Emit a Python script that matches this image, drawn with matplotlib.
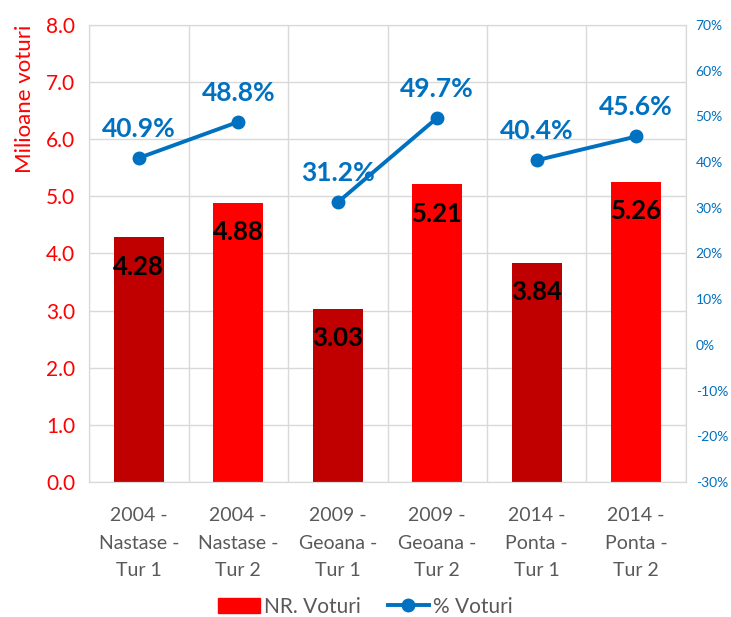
import matplotlib.pyplot as plt
import numpy as np
from matplotlib.ticker import FuncFormatter, MultipleLocator
from matplotlib.patches import Patch
from matplotlib.lines import Line2D

plt.rcParams['font.family'] = ['Lato', 'DejaVu Sans']

categories = [
    "2004 -\nNastase -\nTur 1", "2004 -\nNastase -\nTur 2",
    "2009 -\nGeoana -\nTur 1", "2009 -\nGeoana -\nTur 2",
    "2014 -\nPonta -\nTur 1", "2014 -\nPonta -\nTur 2",
]
votes_mil = [4.28, 4.88, 3.03, 5.21, 3.84, 5.26]
votes_pct = [40.9, 48.8, 31.2, 49.7, 40.4, 45.6]
bar_colors = ["#C00000", "#FF0000"] * 3

BLUE = "#0070C0"
GRID = "#D9D9D9"

fig = plt.figure(figsize=(7.31, 6.17), dpi=100)
ax = fig.add_axes([0.1218, 0.2188, 0.8166, 0.7407])
x = np.arange(len(categories))

ax.bar(x, votes_mil, width=0.5, color=bar_colors, zorder=2)
for xi, v in zip(x, votes_mil):
    ax.annotate(f"{v:.2f}", (xi, v), xytext=(0, -21), textcoords="offset points",
                ha="center", va="center", fontsize=18.5, fontweight="bold", color="black", zorder=5)

ax.set_xlim(-0.5, len(categories) - 0.5)
ax.set_ylim(0, 8)
ax.yaxis.set_major_locator(MultipleLocator(1))
ax.yaxis.set_major_formatter(FuncFormatter(lambda v, p: f"{v:.1f}"))
ax.tick_params(axis="y", colors="#FF0000", labelsize=15, length=0, pad=10)
ax.set_ylabel("Milioane voturi", color="#FF0000", fontsize=16, labelpad=8, loc="top")
ax.set_xticks(x)
ax.set_xticklabels(categories, fontsize=14, color="#595959", linespacing=1.75)
ax.tick_params(axis="x", length=0, pad=18)
ax.set_xticks(np.arange(-0.5, len(categories)), minor=True)
ax.tick_params(axis="x", which="minor", length=0)
ax.grid(axis="y", color=GRID, lw=1, zorder=0)
ax.grid(axis="x", which="minor", color=GRID, lw=1, zorder=0)
for s in ax.spines.values():
    s.set_color(GRID)

ax2 = ax.twinx()
# each election is its own segment (Tur 1 -> Tur 2)
for i in range(0, len(categories), 2):
    ax2.plot(x[i:i + 2], votes_pct[i:i + 2], color=BLUE, lw=2.8, marker="o",
             markersize=9, zorder=4)
for xi, v in zip(x, votes_pct):
    ax2.annotate(f"{v:.1f}%", (xi, v), xytext=(0, 21), textcoords="offset points",
                 ha="center", va="center", fontsize=19, fontweight="bold", color=BLUE)
ax2.set_ylim(-30, 70)
ax2.yaxis.set_major_locator(MultipleLocator(10))
ax2.yaxis.set_major_formatter(FuncFormatter(lambda v, p: f"{v:.0f}%"))
ax2.tick_params(axis="y", colors=BLUE, labelsize=10, length=0, pad=7)
for s in ax2.spines.values():
    s.set_color(GRID)

handles = [Patch(color="#FF0000"),
           Line2D([], [], color=BLUE, lw=2.8, marker="o", markersize=9)]
fig.legend(handles, ["NR. Voturi", "% Voturi"], loc="lower center",
           bbox_to_anchor=(0.5, -0.03), ncol=2, frameon=False, fontsize=15,
           labelcolor="#595959", handlelength=2.0, handletextpad=0.2, columnspacing=1.3)

fig.savefig("out.png", dpi=100)
